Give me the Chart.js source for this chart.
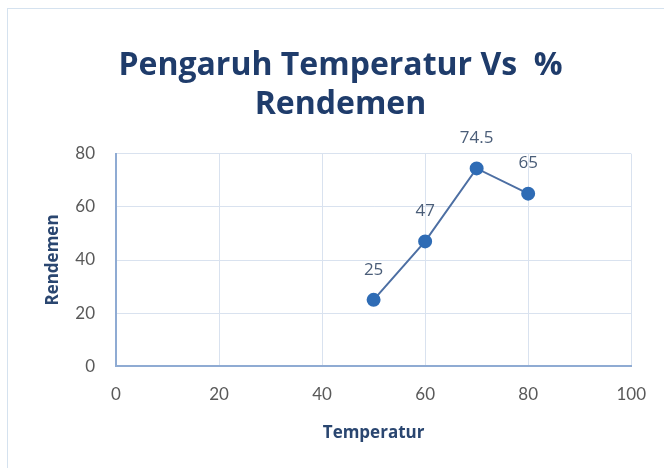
<!DOCTYPE html>
<html>
<head>
<meta charset="utf-8">
<script src="https://cdn.jsdelivr.net/npm/chart.js@4.4.0/dist/chart.umd.min.js"></script>
<style>
  html, body { margin: 0; padding: 0; background: #fff; }
  #wrap { position: relative; width: 664px; height: 468px; }
  #frame { position: absolute; left: 7px; top: 8px; right: 0; bottom: 0; border-left: 1px solid #d5e2ef; border-top: 1px solid #d5e2ef; }
  canvas { position: absolute; left: 0; top: 0; }
</style>
</head>
<body>
<div id="wrap">
  <div id="frame"></div>
  <canvas id="chart" width="664" height="468"></canvas>
</div>
<script>
const temperatur = [50, 60, 70, 80];
const rendemen = [25, 47, 74.5, 65];
const xTicks = [0, 20, 40, 60, 80, 100];
const yTicks = [0, 20, 40, 60, 80];

const points = temperatur.map((t, i) => ({ x: t, y: rendemen[i] }));

// simple label plugin: value above each point
const pointLabels = {
    id: 'pointLabels',
    afterDatasetsDraw(chart) {
        const ctx = chart.ctx;
        const meta = chart.getDatasetMeta(0);
        ctx.save();
        ctx.font = '17px "Open Sans", Lato, sans-serif';
        ctx.fillStyle = '#4a5d78';
        ctx.textAlign = 'center';
        ctx.textBaseline = 'middle';
        meta.data.forEach((pt, i) => {
            ctx.fillText(String(rendemen[i]), pt.x, pt.y - 30);
        });
        ctx.restore();
    }
};

const tickFont = { family: 'Lato, "Open Sans", sans-serif', size: 17 };
const axisTitleFont = { family: '"Open Sans", Lato, sans-serif', size: 17, weight: 'bold' };

new Chart(document.getElementById('chart').getContext('2d'), {
    type: 'scatter',
    data: {
        datasets: [{
            data: points,
            showLine: true,
            borderColor: '#4d6fa3',
            borderWidth: 2,
            pointRadius: 6,
            pointBackgroundColor: '#2f6cb5',
            pointBorderColor: '#2f6cb5'
        }]
    },
    options: {
        responsive: false,
        animation: false,
        layout: { padding: { left: 39, right: 22, top: 30, bottom: 25 } },
        plugins: {
            legend: { display: false },
            tooltip: { enabled: false },
            title: {
                display: true,
                text: ['Pengaruh Temperatur Vs  %', 'Rendemen'],
                color: '#1f3c6b',
                font: { family: '"Open Sans", Lato, sans-serif', size: 32, weight: 'bold' },
                lineHeight: 1.08,
                padding: { top: 17, bottom: 30 }
            }
        },
        scales: {
            x: {
                type: 'linear',
                min: 0, max: 100,
                afterBuildTicks: axis => { axis.ticks = xTicks.map(v => ({ value: v })); },
                ticks: { color: '#595959', font: tickFont, padding: 18 },
                grid: { color: '#d9e2ef', lineWidth: 1, drawTicks: false },
                border: { color: '#8fabd3', width: 2 },
                title: { display: true, text: 'Temperatur', color: '#2a4670', font: axisTitleFont, padding: { top: 0, bottom: 0 } }
            },
            y: {
                min: 0, max: 80,
                afterBuildTicks: axis => { axis.ticks = yTicks.map(v => ({ value: v })); },
                afterFit: axis => { axis.width = 77; },
                ticks: { color: '#595959', font: tickFont, padding: 21 },
                grid: { color: '#d9e2ef', lineWidth: 1, drawTicks: false },
                border: { color: '#8fabd3', width: 2 },
                title: { display: true, text: 'Rendemen', color: '#2a4670', font: axisTitleFont, padding: 4 }
            }
        }
    },
    plugins: [pointLabels]
});
</script>
</body>
</html>
